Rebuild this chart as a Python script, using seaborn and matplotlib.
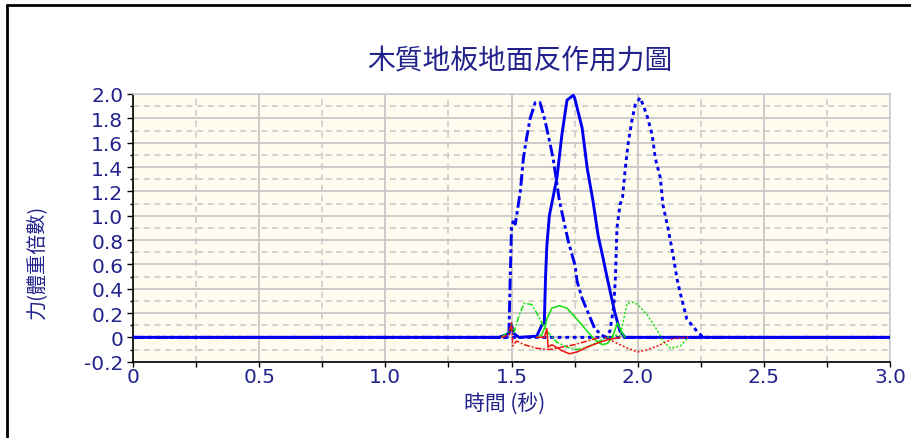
import numpy as np
import pandas as pd
import matplotlib
matplotlib.use('Agg')
import matplotlib.pyplot as plt
from matplotlib.ticker import MultipleLocator, FuncFormatter
from matplotlib.lines import Line2D
import seaborn as sns

# ---- data (time in s, force in body weights) ----
# vertical force (blue)
t_v1 = [0, 1.48, 1.49, 1.495, 1.50, 1.506, 1.515, 1.535, 1.547, 1.56, 1.574, 1.594, 1.613,
        1.633, 1.653, 1.665, 1.69, 1.725, 1.752, 1.76, 1.78, 1.83, 1.87, 3.0]
f_v1 = [0, 0, 0.05, 0.5, 0.9, 0.95, 0.93, 1.2, 1.47, 1.64, 1.8, 1.93, 1.93,
        1.78, 1.59, 1.47, 1.12, 0.79, 0.59, 0.46, 0.32, 0.07, 0, 0]
t_v2 = [0, 1.45, 1.49, 1.50, 1.51, 1.53, 1.60, 1.62, 1.63, 1.635, 1.64, 1.65, 1.68, 1.70,
        1.72, 1.745, 1.75, 1.78, 1.80, 1.823, 1.843, 1.863, 1.88, 1.91, 1.93, 1.95, 3.0]
f_v2 = [0, 0, 0.03, 0.1, 0.03, 0, 0.01, 0.1, 0.12, 0.5, 0.75, 1.0, 1.31, 1.67,
        1.95, 1.99, 1.97, 1.72, 1.39, 1.12, 0.84, 0.65, 0.48, 0.2, 0.05, 0, 0]
t_v3 = [0, 1.87, 1.89, 1.905, 1.912, 1.918, 1.93, 1.94, 1.95, 1.962, 1.977, 1.99, 2.01,
        2.036, 2.057, 2.07, 2.09, 2.10, 2.12, 2.14, 2.156, 2.168, 2.195, 2.235, 2.26, 3.0]
f_v3 = [0, 0, 0.05, 0.25, 0.5, 0.9, 1.09, 1.15, 1.37, 1.59, 1.78, 1.91, 1.97,
        1.83, 1.67, 1.47, 1.31, 1.09, 0.90, 0.68, 0.48, 0.37, 0.15, 0.05, 0, 0]

# antero-posterior force (green)
t_g1 = [1.46, 1.49, 1.50, 1.51, 1.53, 1.55, 1.58, 1.60, 1.62, 1.64, 1.68, 1.72, 1.76, 1.80, 1.85, 1.88]
f_g1 = [0, 0.05, 0.1, 0.04, 0.18, 0.28, 0.27, 0.2, 0.12, 0.05, -0.04, -0.08, -0.1, -0.08, -0.03, 0]
t_g2 = [1.60, 1.62, 1.635, 1.64, 1.66, 1.69, 1.72, 1.75, 1.78, 1.80, 1.83, 1.86, 1.88, 1.90, 1.92, 1.935, 1.95]
f_g2 = [0, 0.02, 0.1, 0.15, 0.24, 0.26, 0.24, 0.17, 0.1, 0.05, -0.02, -0.06, -0.05, 0.0, 0.12, 0.05, 0]
t_g3 = [1.88, 1.92, 1.93, 1.945, 1.958, 1.98, 2.0, 2.04, 2.08, 2.10, 2.13, 2.17, 2.2]
f_g3 = [0, 0.02, 0.01, 0.15, 0.28, 0.29, 0.27, 0.18, 0.05, -0.03, -0.09, -0.07, 0]

# medio-lateral force (red)
t_r1 = [1.46, 1.49, 1.50, 1.505, 1.52, 1.55, 1.60, 1.65, 1.70, 1.75, 1.80, 1.85]
f_r1 = [0, 0.02, 0.12, -0.07, -0.03, -0.06, -0.09, -0.1, -0.08, -0.06, -0.03, 0]
t_r2 = [1.60, 1.63, 1.64, 1.645, 1.66, 1.70, 1.73, 1.76, 1.80, 1.85, 1.88, 1.93]
f_r2 = [0, 0.0, 0.07, -0.08, -0.06, -0.11, -0.135, -0.12, -0.08, -0.04, -0.02, 0]
t_r3 = [1.87, 1.90, 1.95, 2.0, 2.04, 2.08, 2.14, 2.2]
f_r3 = [0, -0.03, -0.08, -0.12, -0.1, -0.07, -0.01, 0]

series = [
    ('Fz', 'T1', t_v1, f_v1), ('Fz', 'T2', t_v2, f_v2), ('Fz', 'T3', t_v3, f_v3),
    ('Fy', 'T1', t_g1, f_g1), ('Fy', 'T2', t_g2, f_g2), ('Fy', 'T3', t_g3, f_g3),
    ('Fx', 'T1', t_r1, f_r1), ('Fx', 'T2', t_r2, f_r2), ('Fx', 'T3', t_r3, f_r3),
]
df = pd.concat([pd.DataFrame({'t': t, 'F': f, 'comp': c, 'trial': tr})
                for c, tr, t, f in series], ignore_index=True)

navy = '#22228C'
sns.set_theme(style='white')
plt.rcParams['font.family'] = ['DejaVu Sans', 'Noto Sans CJK TC']
cjk = ['Noto Sans CJK TC', 'DejaVu Sans']

fig = plt.figure(figsize=(9.11, 4.39), dpi=100)
fig.patch.set_facecolor('white')
ax = fig.add_axes([133/911, 1-362.7/439, (890-133)/911, (362.7-95)/439])
ax.set_facecolor('#FEFBEF')

sns.lineplot(data=df, x='t', y='F', hue='comp', style='trial', size='comp',
             hue_order=['Fz', 'Fy', 'Fx'],
             palette={'Fz': '#0000F0', 'Fy': '#10E010', 'Fx': '#F01010'},
             sizes={'Fz': 2.1, 'Fy': 1.1, 'Fx': 1.1},
             dashes={'T1': (4, 1.2, 1.2, 1.2), 'T2': '', 'T3': (1.3, 1.3)},
             estimator=None, sort=False, legend=False, ax=ax, zorder=3)

ax.set_xlim(0, 3.0)
ax.set_ylim(-0.2, 2.0)
ax.xaxis.set_major_locator(MultipleLocator(0.5))
ax.xaxis.set_minor_locator(MultipleLocator(0.25))
ax.yaxis.set_major_locator(MultipleLocator(0.2))
ax.yaxis.set_minor_locator(MultipleLocator(0.1))
fmt = FuncFormatter(lambda v, p: '0' if abs(v) < 1e-9 else f'{v:.1f}')
ax.xaxis.set_major_formatter(fmt)
ax.yaxis.set_major_formatter(fmt)

ax.grid(which='major', color='#C8C8C8', lw=1.3, ls='-', zorder=0)
ax.grid(which='minor', color='#C8C8C8', lw=1.1, ls=(0, (4, 3)), zorder=0)
ax.set_axisbelow(True)

ax.tick_params(axis='both', which='both', colors='black', labelcolor=navy, labelsize=14.5,
               direction='out')
ax.tick_params(axis='x', which='both', bottom=True, length=3.5, width=1, pad=0.5)
ax.tick_params(axis='y', which='major', left=True, length=4, width=1, pad=3)
ax.tick_params(axis='y', which='minor', left=True, length=2.5, width=1)

for s in ['left', 'bottom']:
    ax.spines[s].set_color('black')
    ax.spines[s].set_linewidth(1.2)
for s in ['top', 'right']:
    ax.spines[s].set_color('#CCCCCC')
    ax.spines[s].set_linewidth(1.2)

ax.set_xlabel('')
ax.set_ylabel('')
fig.text(520/911, 1-61/439, '木質地板地面反作用力圖', family=cjk, fontsize=20,
         color=navy, ha='center', va='center')
fig.text(505/911, 1-405/439, '時間 (秒)', family=cjk, fontsize=15,
         color=navy, ha='center', va='center')
fig.text(38/911, 1-262/439, '力(體重倍數)', family=cjk, fontsize=14.5,
         color=navy, ha='center', va='center', rotation=90)

# outer frame (top and left edges)
fig.add_artist(Line2D([7/911, 7/911], [0, 1-6/439], transform=fig.transFigure,
                      color='black', lw=2))
fig.add_artist(Line2D([7/911, 1], [1-6/439, 1-6/439], transform=fig.transFigure,
                      color='black', lw=2))

fig.savefig('out.png', dpi=100)
